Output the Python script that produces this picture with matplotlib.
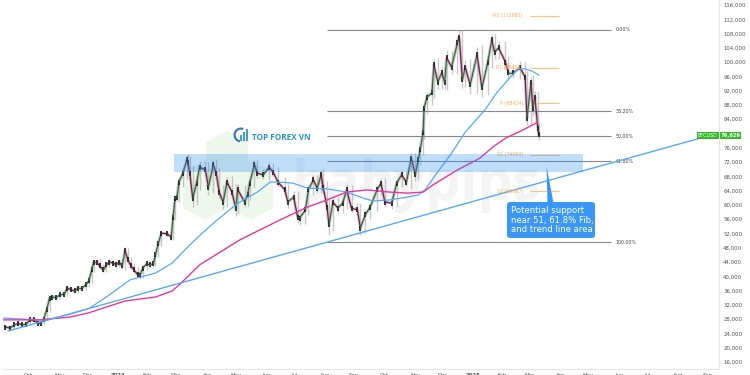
import matplotlib
matplotlib.use("Agg")
import matplotlib.pyplot as plt
from matplotlib.patches import Polygon, FancyBboxPatch, Rectangle, Wedge

# -------------------------------
# DATA (days since Oct 1 2023, prices in USD thousands)
# -------------------------------
days = [-23, -18, -14, -10, -6, -2, 2, 6, 10, 13,
        16, 19, 22, 24, 29, 33, 37, 40, 44, 48,
        51, 55, 59, 62, 65, 67, 70, 73, 77, 80,
        83, 87, 90, 93, 96, 99, 102, 105, 108, 112,
        114, 117, 121, 124, 128, 130, 133, 136, 142, 146,
        148, 150, 152, 154, 158, 162, 163, 165, 168, 172,
        175, 181, 184, 189, 192, 195, 199, 203, 208, 212,
        214, 221, 224, 226, 231, 234, 240, 246, 250, 255,
        262, 265, 271, 275, 277, 283, 286, 291, 295, 299,
        301, 305, 307, 311, 316, 321, 325, 330, 336, 339,
        344, 349, 356, 360, 364, 371, 376, 381, 386, 391,
        395, 398, 400, 403, 404, 407, 412, 414, 418, 422,
        425, 427, 432, 438, 440, 443, 446, 451, 458, 463,
        469, 473, 476, 480, 487, 490, 495, 502, 507, 509,
        513, 515, 517, 520, 521]
closes = [25.8, 25.5, 26.4, 26.8, 26.4, 26.6, 27.8, 27.8, 26.9, 26.8,
          28.0, 30.6, 33.9, 34.2, 34.2, 34.8, 35.0, 36.7, 36.2, 35.9,
          36.7, 36.7, 37.6, 38.7, 41.8, 44.0, 44.0, 42.9, 41.8, 43.2,
          44.0, 43.7, 43.2, 44.0, 42.9, 47.1, 44.6, 42.9, 41.8, 40.4,
          40.1, 42.3, 43.5, 43.2, 43.5, 46.0, 49.3, 52.1, 51.9, 51.0,
          56.6, 61.9, 62.2, 66.4, 68.9, 72.6, 72.0, 68.9, 61.9, 66.1,
          70.6, 69.8, 65.0, 71.2, 68.9, 63.6, 60.8, 66.4, 63.6, 59.1,
          64.2, 60.8, 62.8, 66.1, 71.2, 68.9, 68.4, 70.6, 69.2, 66.4,
          64.2, 60.8, 62.2, 56.6, 56.3, 58.6, 64.2, 67.0, 64.7, 68.4,
          65.0, 59.4, 54.4, 60.8, 59.1, 60.5, 64.2, 59.1, 58.6, 53.5,
          57.2, 59.4, 64.2, 66.1, 60.8, 60.5, 66.1, 68.4, 66.4, 73.1,
          68.4, 72.6, 75.4, 80.4, 87.1, 90.2, 91.4, 99.2, 94.4, 97.0,
          94.4, 101.2, 98.6, 105.4, 106.8, 95.0, 98.6, 93.6, 102.0, 92.8,
          100.0, 106.2, 102.8, 104.0, 100.0, 97.0, 97.0, 98.4, 95.8, 84.3,
          94.2, 87.1, 90.2, 81.5, 79.6]
wicks = [0.7, 0.8, 0.5, 0.6, 0.5, 0.5, 0.6, 0.6, 0.6, 0.7,
         0.6, 0.8, 1.0, 0.7, 0.7, 0.7, 0.8, 1.0, 0.9, 1.0,
         0.9, 0.8, 0.9, 0.9, 1.0, 1.1, 1.1, 1.2, 1.0, 1.1,
         1.0, 1.0, 1.0, 1.0, 1.2, 1.8, 1.4, 1.2, 1.2, 1.2,
         1.3, 1.0, 1.0, 1.0, 1.0, 1.0, 1.0, 1.2, 1.0, 1.2,
         1.5, 1.6, 1.5, 2.2, 2.5, 2.5, 2.6, 3.0, 4.0, 3.4,
         3.0, 3.0, 3.5, 2.6, 2.6, 3.0, 3.2, 2.5, 3.0, 3.8,
         2.6, 2.5, 2.0, 2.2, 2.5, 2.4, 2.0, 2.2, 2.0, 2.4,
         2.5, 3.0, 2.6, 3.0, 3.0, 2.6, 2.4, 2.2, 2.5, 2.4,
         2.8, 3.0, 4.9, 3.0, 2.4, 2.2, 2.6, 2.4, 2.2, 3.0,
         2.4, 2.0, 2.0, 2.4, 2.2, 2.6, 2.0, 2.0, 2.0, 2.6,
         2.6, 2.4, 2.5, 2.5, 3.0, 2.6, 3.5, 2.6, 3.4, 3.0,
         3.4, 3.5, 3.4, 3.0, 3.5, 3.6, 3.2, 4.0, 3.6, 4.5,
         3.4, 2.9, 3.0, 3.0, 3.0, 3.0, 2.6, 3.0, 2.6, 3.0,
         2.8, 3.5, 2.8, 2.6, 2.4]

ma_blue_days = [-25, 12, 22, 43, 63, 84, 104, 130, 147, 165, 179, 193, 214, 234, 247, 257, 270, 285, 305,
                325, 342, 352, 369, 387, 398, 405, 417, 427, 432, 446, 466, 478, 492, 500, 507, 514, 521]
ma_blue = [28.3, 27.8, 28.0, 29.4, 31.1, 35.0, 39.0, 40.9, 43.7, 48.8, 52.4, 55.8, 60.5, 63.6, 66.4, 66.4, 66.1, 64.7, 64.5,
           63.6, 61.9, 61.1, 61.4, 62.2, 62.8, 64.2, 68.9, 72.6, 74.5, 80.4, 86.6, 91.4, 95.8, 98.1, 98.1, 97.5, 96.4]
ma_pink_days = [-25, 12, 43, 61, 99, 130, 147, 155, 175, 216, 257, 285, 305, 325, 346, 369, 387, 403, 413, 438, 461, 474, 487, 505, 520]
ma_pink = [27.8, 27.8, 28.6, 29.7, 33.1, 34.2, 35.9, 37.8, 43.2, 50.2, 55.8, 59.4, 61.4, 63.6, 64.2, 63.6, 63.3, 63.6, 65.6, 69.8, 73.1, 76.2, 78.7, 81.0, 83.2]

trend_days = [-20, 683]
trend_vals = [24.7, 78.5]

fib_names = ["0.00%", "38.20%", "50.00%", "61.80%", "100.00%"]
fib_vals = [109.1, 86.3, 79.2, 72.2, 49.5]
fib_span = [305, 595]

pivot_names = ["R2 (112981)", "R1 (98451)", "P (88424)", "S1 (74094)", "S2 (63867)"]
pivot_vals = [112.981, 98.451, 88.424, 74.094, 63.867]
pivot_start = [512, 512, 518, 512, 512]
pivot_end = 542
pivot_text_day = 505

zone_days = [149, 566]
zone_vals = [69.2, 74.4]

month_days = [0, 32, 61, 92, 122, 151, 183, 212, 243, 272, 303, 332,
              363, 395, 423, 454, 484, 512, 543, 571, 603, 632, 663, 693]
month_labels = ["Oct", "Nov", "Dec", "2024", "Feb", "Mar", "Apr", "May", "Jun", "Jul", "Aug", "Sep",
                "Oct", "Nov", "Dec", "2025", "Feb", "Mar", "Apr", "May", "Jun", "Jul", "Aug", "Sep"]
price_ticks = [p for p in range(16, 117, 4) if p != 80]   # 80,000 sits under the price label
last_price = 79.629

W, H = 750, 375
fig = plt.figure(figsize=(7.5, 3.75), dpi=100, facecolor="white")
plt.rcParams["font.family"] = "DejaVu Sans"

# -------------------------------
# background watermarks
# -------------------------------
bg = fig.add_axes([0, 0, 1, 1], zorder=0)
bg.set_xlim(0, W)
bg.set_ylim(H, 0)
bg.axis("off")

def hexagon(cx, top, bottom, half):
    d = (bottom - top) * 0.2
    return [(cx, top), (cx + half, top + d), (cx + half, bottom - d),
            (cx, bottom), (cx - half, bottom - d), (cx - half, top + d)]

for cx, top, bottom, half in [(227, 131, 190, 21), (205, 160, 220, 22), (251, 160, 220, 22)]:
    bg.add_patch(Polygon(hexagon(cx, top, bottom, half), fc="#eef7ec", ec="none"))
bg.text(292, 200, "babypips", color="#f4f4f5", fontsize=40, fontweight="bold",
        family="Open Sans", va="baseline", ha="left")

# -------------------------------
# main price panel
# -------------------------------
ax = fig.add_axes([3 / W, 1 - 369 / H, 716 / W, 369 / H], zorder=1)
ax.patch.set_alpha(0)
ax.set_xlim(-25.5, 704.8)
ax.set_ylim(14.04, 117.4)

for spine in ["top", "left"]:
    ax.spines[spine].set_visible(False)
for spine in ["right", "bottom"]:
    ax.spines[spine].set_color("#e6e6e8")
    ax.spines[spine].set_linewidth(0.8)

ax.yaxis.tick_right()
ax.set_yticks(price_ticks)
ax.set_yticklabels([f"{p},000" for p in price_ticks], fontsize=3.9, color="#555555")
ax.set_xticks(month_days)
ax.set_xticklabels(month_labels, fontsize=3.9, color="#555555")
for lab in ax.get_xticklabels():
    if lab.get_text().startswith("20"):
        lab.set_fontweight("bold")
ax.tick_params(axis="x", length=0, pad=2.6)
ax.tick_params(axis="y", length=0, pad=3)

# candles: grey wick band under a path coloured by direction
ax.plot(days, closes, color="#9a9a9a", lw=2.2, alpha=0.5, zorder=2)
for i in range(len(days)):
    prev = closes[i - 1] if i > 0 else closes[i]
    up = closes[i] >= prev
    ax.vlines(days[i], min(prev, closes[i]) - wicks[i] * 0.6, max(prev, closes[i]) + wicks[i] * 0.6,
              color="#ababab", lw=1.0, alpha=0.65, zorder=2)
    if i > 0:
        ax.plot([days[i - 1], days[i]], [prev, closes[i]], color="#2f6b35" if up else "#7a1a4c",
                lw=0.9, zorder=3, solid_capstyle="round")
    ax.vlines(days[i], closes[i] - 0.7, closes[i] + 0.7, color="#1a1a1a", lw=1.2, zorder=3)

ax.plot(ma_blue_days, ma_blue, color="#5aa9f5", lw=0.9, zorder=4)
ax.plot(ma_pink_days, ma_pink, color="#e8379a", lw=1.0, zorder=4)
ax.plot(trend_days, trend_vals, color="#5aa9f5", lw=1.0, zorder=4)

# fib levels
for name, val in zip(fib_names, fib_vals):
    ax.hlines(val, fib_span[0], fib_span[1], color="#85878f", lw=0.8, zorder=2)
    ax.text(fib_span[1] + 4, val, name, fontsize=3.4, color="#444444", va="center", ha="left")

# pivots
for name, val, start in zip(pivot_names, pivot_vals, pivot_start):
    ax.hlines(val, start, pivot_end, color="#ffc27a", lw=0.8, zorder=5)
    ax.text(pivot_text_day, val, name, fontsize=3.4, color="#ffa94d", va="center", ha="right", zorder=5)

# support zone
ax.add_patch(Rectangle((zone_days[0], zone_vals[0]), zone_days[1] - zone_days[0], zone_vals[1] - zone_vals[0],
                       fc="#2f8ff0", ec="none", alpha=0.3, zorder=6))

# -------------------------------
# overlay: logo, price label, callout
# -------------------------------
ov = fig.add_axes([0, 0, 1, 1], zorder=2)
ov.patch.set_alpha(0)
ov.set_xlim(0, W)
ov.set_ylim(H, 0)
ov.axis("off")

ov.add_patch(Wedge((241, 135), 7.5, 100, 290, width=2.2, fc="#3f76b0", ec="none"))
for bx, bt in [(240, 135), (243, 132), (246, 129)]:
    ov.add_patch(Rectangle((bx, bt), 1.8, 141 - bt, fc="#3f9fd0", ec="none"))
ov.text(252, 137, "TOP FOREX VN", color="#2a93c4", fontsize=5.9, fontweight="bold", family="Open Sans",
        va="center", ha="left")

ov.add_patch(Rectangle((697, 131.5), 21.5, 7.5, fc="#34b928", ec="none"))
ov.add_patch(Rectangle((720, 131.5), 21, 7.5, fc="#34b928", ec="none"))
ov.text(707.8, 135.4, "BTCUSD", color="white", fontsize=3.5, ha="center", va="center")
ov.text(730.5, 135.4, f"{last_price:.3f}".replace(".", ","), color="white", fontsize=3.7, fontweight="bold",
        ha="center", va="center")

ov.add_patch(Polygon([(546.5, 166), (547.5, 203), (553.5, 203)], fc="#3a97f5", ec="none"))
ov.add_patch(FancyBboxPatch((509, 204), 84, 32, boxstyle="round,pad=2,rounding_size=3", fc="#3a97f5", ec="none"))
ov.text(511, 220.3, "Potential support\nnear 51, 61.8% Fib,\nand trend line area", color="white",
        fontsize=6.1, ha="left", va="center", linespacing=1.06)

fig.savefig("out.png", dpi=100)
